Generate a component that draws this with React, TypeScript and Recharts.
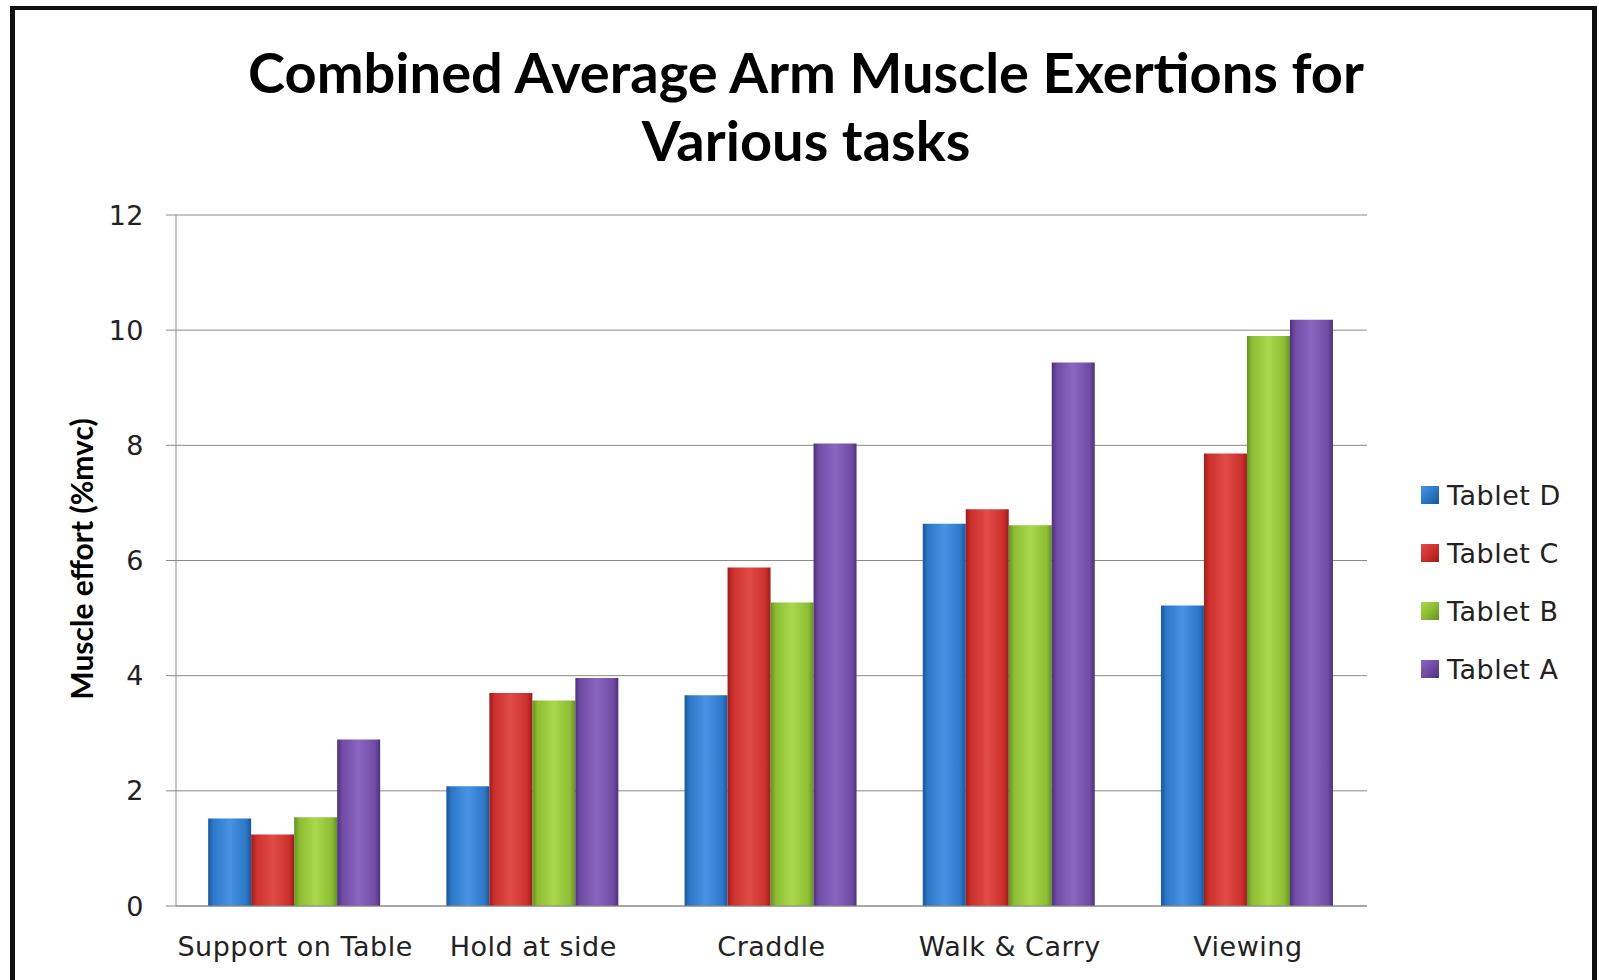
import { BarChart, Bar, XAxis, YAxis, CartesianGrid } from "recharts";

const tasks = ["Support on Table", "Hold at side", "Craddle", "Walk & Carry", "Viewing"];
const tabletD = [1.52, 2.08, 3.66, 6.64, 5.22];
const tabletC = [1.24, 3.7, 5.88, 6.89, 7.86];
const tabletB = [1.54, 3.57, 5.27, 6.61, 9.9];
const tabletA = [2.89, 3.96, 8.03, 9.44, 10.18];
const yTicks = [0, 2, 4, 6, 8, 10, 12];
const separatorTicks = [0, 1, 2, 3, 4, 5];

const series = [
  { key: "tabletD", name: "Tablet D", edge: "#1b5599", mid: "#2c78c8", light: "#4893e2" },
  { key: "tabletC", name: "Tablet C", edge: "#9a1d1d", mid: "#cc302c", light: "#e04c45" },
  { key: "tabletB", name: "Tablet B", edge: "#678f22", mid: "#8cbd32", light: "#a9d84c" },
  { key: "tabletA", name: "Tablet A", edge: "#4b317c", mid: "#714ca5", light: "#8a66c0" },
];

const data = tasks.map((task, i) => ({
  task,
  tabletD: tabletD[i],
  tabletC: tabletC[i],
  tabletB: tabletB[i],
  tabletA: tabletA[i],
}));

const tickFont = {
  fontFamily: "'DejaVu Sans', Verdana, sans-serif",
  fontSize: 27,
  letterSpacing: 0.5,
  fill: "#222",
};

export default function App() {
  return (
    <div
      style={{
        position: "fixed",
        left: 0,
        top: 0,
        width: 1599,
        height: 980,
        background: "#fff",
        overflow: "hidden",
      }}
    >
      <div
        style={{
          position: "absolute",
          left: 10,
          top: 6,
          width: 1577,
          height: 1000,
          borderLeft: "5px solid #111",
          borderRight: "5px solid #111",
          borderTop: "4px solid #111",
          boxSizing: "content-box",
        }}
      />
      <div
        style={{
          position: "absolute",
          left: 206,
          width: 1200,
          top: 38,
          textAlign: "center",
          fontFamily: "Lato, sans-serif",
          fontWeight: 700,
          fontSize: 56,
          lineHeight: "68px",
          color: "#000",
        }}
      >
        Combined Average Arm Muscle Exertions for
        <br />
        Various tasks
      </div>
      <div
        style={{
          position: "absolute",
          left: 81,
          top: 559,
          transform: "translate(-50%, -50%) rotate(-90deg)",
          whiteSpace: "nowrap",
          fontFamily: "Lato, sans-serif",
          fontWeight: 700,
          fontSize: 30,
          color: "#000",
        }}
      >
        Muscle effort (%mvc)
      </div>
      <div style={{ position: "absolute", left: 0, top: 0 }}>
        <BarChart
          width={1599}
          height={980}
          data={data}
          margin={{ top: 215, right: 232, bottom: 24, left: 116 }}
          barCategoryGap="13.5%"
          barGap={0}
        >
          <defs>
            {series.map((s) => (
              <linearGradient key={s.key} id={`grad-${s.key}`} x1="0" y1="0" x2="1" y2="0">
                <stop offset="0%" stopColor={s.edge} />
                <stop offset="12%" stopColor={s.mid} />
                <stop offset="50%" stopColor={s.light} />
                <stop offset="88%" stopColor={s.mid} />
                <stop offset="100%" stopColor={s.edge} />
              </linearGradient>
            ))}
          </defs>
          <CartesianGrid vertical={false} stroke="#8a8a8a" strokeWidth={1} />
          <XAxis
            xAxisId="sep"
            type="number"
            domain={[0, 5]}
            ticks={separatorTicks}
            height={0}
            axisLine={false}
            tickSize={8}
            tickFormatter={() => ""}
            stroke="#8a8a8a"
          />
          <XAxis
            dataKey="task"
            height={50}
            tickLine={false}
            axisLine={{ stroke: "#8a8a8a" }}
            tick={tickFont}
            tickMargin={25}
            interval={0}
          />
          <YAxis
            width={60}
            domain={[0, 12]}
            ticks={yTicks}
            axisLine={{ stroke: "#8a8a8a" }}
            tickLine={{ stroke: "#8a8a8a" }}
            tickSize={10}
            tickMargin={22}
            tick={tickFont}
          />
          {series.map((s) => (
            <Bar
              key={s.key}
              dataKey={s.key}
              name={s.name}
              fill={`url(#grad-${s.key})`}
              isAnimationActive={false}
            />
          ))}
        </BarChart>
      </div>
      <div style={{ position: "absolute", left: 1421, top: 466 }}>
        {series.map((s) => (
          <div
            key={s.key}
            style={{ display: "flex", alignItems: "center", height: 58, whiteSpace: "nowrap" }}
          >
            <div
              style={{
                width: 18,
                height: 18,
                marginRight: 8,
                background: `linear-gradient(135deg, ${s.light}, ${s.mid} 50%, ${s.edge})`,
              }}
            />
            <span
              style={{
                fontFamily: "'DejaVu Sans', Verdana, sans-serif",
                fontSize: 27,
                letterSpacing: 0.5,
                color: "#222",
              }}
            >
              {s.name}
            </span>
          </div>
        ))}
      </div>
    </div>
  );
}
